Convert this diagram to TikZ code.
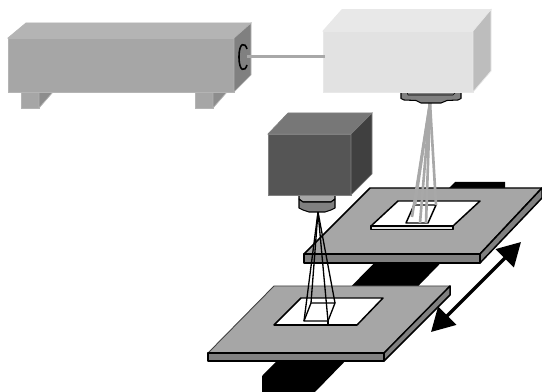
\documentclass[tikz,border=0pt]{standalone}
\usetikzlibrary{arrows.meta}
\definecolor{plategray}{HTML}{A6A6A6}
\definecolor{edgegray}{HTML}{808080}
\definecolor{boxtop}{HTML}{B4B4B4}
\definecolor{paletop}{HTML}{E8E8E8}
\definecolor{paleface}{HTML}{E2E2E2}
\definecolor{paleside}{HTML}{BDBDBD}
\definecolor{darktop}{HTML}{777777}
\definecolor{darkface}{HTML}{555555}
\definecolor{darkside}{HTML}{404040}
\definecolor{raygray}{HTML}{A8A8A8}
\tikzset{
  grayray/.style={draw=raygray, line width=1.5pt},
  blackray/.style={draw=black, line width=0.75pt},
  plateedge/.style={draw=black, line width=0.85pt, line join=round},
}

\begin{document}
\begin{tikzpicture}[
    x=0.2mm, y=-0.2mm,
    >={Triangle[length=4.6mm, width=5mm]},
  ]
  \useasboundingbox (0,0) rectangle (542,392);
  \fill[white] (0,0) rectangle (542,392);

  % ===== Belt =====
  \fill[black] (262,376) -- (455,182) -- (505,182) -- (505,197) -- (315,392) -- (262,392) -- cycle;

  % ===== Upper plate =====
  \filldraw[fill=plategray, plateedge] (304,254) -- (370,188) -- (542,188) -- (480,254) -- cycle;
  \filldraw[fill=edgegray, plateedge] (304,254) rectangle (480,263);
  \filldraw[fill=edgegray, plateedge] (480,254) -- (542,188) -- (542,198) -- (480,263) -- cycle;

  % Sample on upper plate
  \filldraw[fill=white, plateedge] (371,226) -- (398,201) -- (480,201) -- (453,226) -- cycle;
  \filldraw[fill=paleface, plateedge] (371,226) rectangle (453,229.5);
  \draw[plateedge] (406,223) -- (414,205) -- (436,205) -- (428,223) -- cycle;

  % Gray rays
  \coordinate (focusA) at (430,103);
  \foreach \rayend in {(415,205),(412,217),(420,223),(426,223),(436,205)}
    \draw[grayray] (focusA) -- \rayend;

  % ===== Lower plate =====
  \filldraw[fill=plategray, draw=darkside, line width=0.5pt] (208,353) -- (274,286) -- (450,286) -- (384,353) -- cycle;
  \filldraw[fill=edgegray, plateedge] (208,353) rectangle (384,361);
  \filldraw[fill=edgegray, plateedge] (384,353) -- (450,286) -- (450,295) -- (384,361) -- cycle;

  % Sample on lower plate
  \filldraw[fill=white, plateedge] (274,325) -- (301,298) -- (383,298) -- (357,325) -- cycle;
  \draw[black, line width=1.2pt] (274,325) -- (357,325);
  \draw[plateedge, line width=0.75pt] (304,321) -- (311,303) -- (335,303) -- (328,321) -- cycle;
  \draw[plateedge, line width=0.75pt] (328,321) -- (328,326);

  % Black rays
  \coordinate (focusB) at (318,212);
  \foreach \rayend in {(304,321),(311,303),(328,321),(335,303)}
    \draw[blackray] (focusB) -- \rayend;

  % ===== Dark camera =====
  \filldraw[fill=plategray, plateedge, line width=0.6pt] (299,195) -- (299,199) -- (303,202) -- (331,202) -- (335,199) -- (335,195) -- cycle;
  \filldraw[fill=edgegray, plateedge, line width=0.6pt] (299,199) -- (303,202) -- (331,202) -- (335,199) -- (335,208) -- (331,210) -- (325,212) -- (309,212) -- (303,210) -- (299,208) -- cycle;
  \filldraw[fill=darkface, draw=edgegray, line width=0.4pt] (268,134) rectangle (351,195);
  \filldraw[fill=darktop, draw=edgegray, line width=0.4pt] (268,134) -- (288,113) -- (372,113) -- (351,134) -- cycle;
  \filldraw[fill=darkside, draw=edgegray, line width=0.4pt] (351,134) -- (372,113) -- (372,174) -- (351,195) -- cycle;

  % ===== Pale camera =====
  \filldraw[fill=edgegray, plateedge, line width=0.6pt] (401,92) -- (401,98.5) -- (404,100) -- (416,100.5) -- (421,103) -- (441,103) -- (447,100.5) -- (458,100) -- (461,98.5) -- (461,92) -- cycle;
  \draw[black, line width=0.3pt] (407,92) -- (408,95) -- (453,95) -- (456,92);
  \filldraw[fill=paleface, draw=paletop, line width=0.4pt] (323,31) rectangle (473,92);
  \filldraw[fill=paletop, draw=paletop, line width=0.4pt] (323,31) -- (342,9.5) -- (491,9.5) -- (473,31) -- cycle;
  \filldraw[fill=paleside, draw=paletop, line width=0.4pt] (473,31) -- (491,9.5) -- (491,71) -- (473,92) -- cycle;

  % ===== Gray box =====
  \filldraw[fill=plategray, draw=boxtop, line width=0.4pt] (21,92) rectangle (39,108);
  \filldraw[fill=edgegray!90, draw=boxtop, line width=0.4pt] (39,92) -- (53,92) -- (39,108) -- cycle;
  \filldraw[fill=plategray, draw=boxtop, line width=0.4pt] (195,92) rectangle (213,108);
  \filldraw[fill=edgegray!90, draw=boxtop, line width=0.4pt] (213,92) -- (227,92) -- (213,108) -- cycle;
  \filldraw[fill=plategray, draw=boxtop, line width=0.4pt] (8,38) rectangle (234,92);
  \filldraw[fill=boxtop, draw=boxtop, line width=0.4pt] (8,38) -- (26,23) -- (251,23) -- (234,38) -- cycle;
  \filldraw[fill=edgegray, draw=boxtop, line width=0.4pt] (234,38) -- (251,23) -- (251,75) -- (234,92) -- cycle;
  \draw[black, line width=0.9pt] (247,49) .. controls (245,42) and (239,42) .. (239,57)
    .. controls (239,72) and (245,72) .. (247,65);

  % ===== Cable =====
  \coordinate (cableA) at (247,56.5);
  \coordinate (cableB) at (325,56.5);
  \draw[raygray, line width=1.7pt] (cableA) -- (cableB);

  % ===== Travel arrow =====
  \coordinate (travelA) at (431,332);
  \coordinate (travelB) at (521,242);
  \draw[<->, black, line width=2pt] (travelA) -- (travelB);

\end{tikzpicture}
\end{document}
